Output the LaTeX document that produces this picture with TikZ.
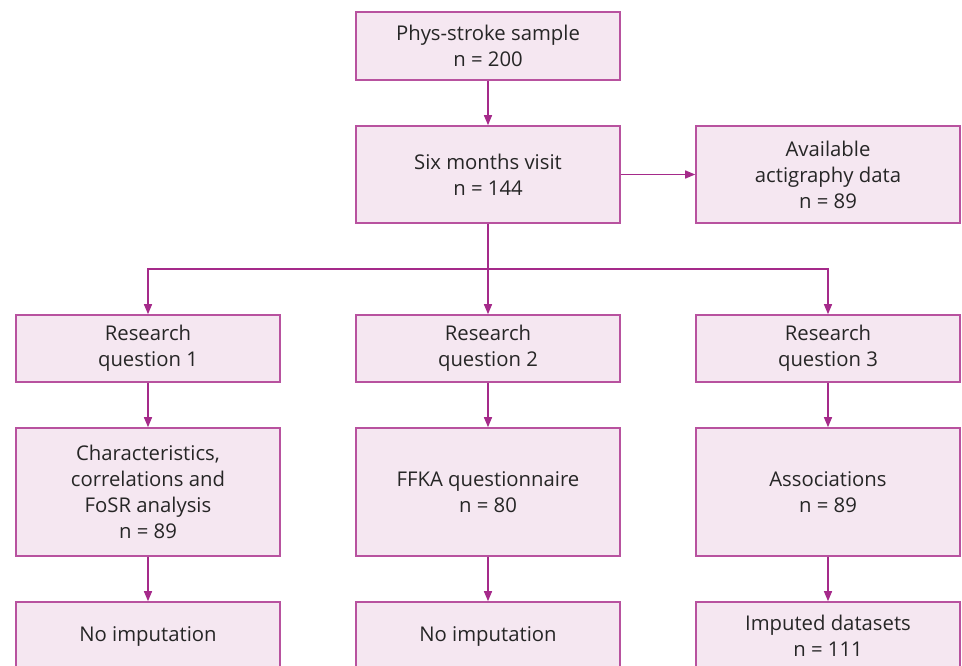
\documentclass[tikz,border=0pt]{standalone}
\usepackage{fontspec}
\setmainfont{Open Sans}
\usetikzlibrary{arrows.meta}
\definecolor{boxfill}{HTML}{F5E7F1}
\definecolor{boxline}{HTML}{B8529F}
\definecolor{arrcol}{HTML}{A52A8A}
\definecolor{txt}{HTML}{262626}
\tikzset{
  fbox/.style={draw=boxline, fill=boxfill, line width=1.6pt, minimum width=264pt, align=center, text=txt,
    font=\fontsize{20.3}{26}\selectfont, inner sep=0pt},
  conn/.style={draw=arrcol, line width=1.4pt, -{Triangle[length=10pt,width=8pt]}},
  plain/.style={draw=arrcol, line width=1.4pt}
}
\begin{document}
\begin{tikzpicture}[x=1pt,y=-1pt]
\useasboundingbox (0,0) rectangle (962,666);
\clip (0,0) rectangle (962,666);
\node[fbox, minimum height=68pt] (a) at (488,46) {Phys-stroke sample\\n = 200};
\node[fbox, minimum height=97pt] (b) at (488,174.5) {Six months visit\\n = 144};
\node[fbox, minimum height=97pt] (c) at (828,174.5) {Available\\actigraphy data\\n = 89};
\node[fbox, minimum height=67pt] (r1) at (148,348.5) {Research\\question 1};
\node[fbox, minimum height=67pt] (r2) at (488,348.5) {Research\\question 2};
\node[fbox, minimum height=67pt] (r3) at (828,348.5) {Research\\question 3};
\node[fbox, minimum height=128pt] (d1) at (148,492) {Characteristics,\\correlations and\\FoSR analysis\\n = 89};
\node[fbox, minimum height=128pt] (d2) at (488,492) {FFKA questionnaire\\n = 80};
\node[fbox, minimum height=128pt] (d3) at (828,492) {Associations\\n = 89};
\node[fbox, minimum height=68pt] (e1) at (148,636) {No imputation};
\node[fbox, minimum height=68pt] (e2) at (488,636) {No imputation};
\node[fbox, minimum height=68pt] (e3) at (828,636) {Imputed datasets\\n = 111};
\coordinate (j) at (488,269);
\draw[conn] (a) -- (b);
\draw[conn] (b.east) -- (c.west);
\draw[plain] (b.south) -- (j);
\draw[conn] (j) -| (r1.north);
\draw[conn] (j) -| (r3.north);
\draw[conn] (j) -- (r2.north);
\draw[conn] (r1) -- (d1);
\draw[conn] (r2) -- (d2);
\draw[conn] (r3) -- (d3);
\draw[conn] (d1) -- (e1);
\draw[conn] (d2) -- (e2);
\draw[conn] (d3) -- (e3);
\end{tikzpicture}
\end{document}
